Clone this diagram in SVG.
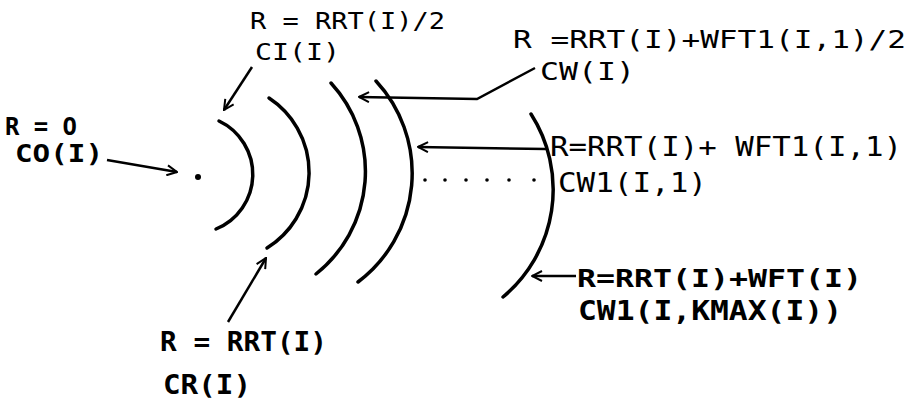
<svg xmlns="http://www.w3.org/2000/svg" width="913" height="406" viewBox="0 0 913 406">
<defs>
<marker id="ah" viewBox="0 0 12 12" refX="11" refY="6" markerWidth="12" markerHeight="12" markerUnits="userSpaceOnUse" orient="auto">
<path d="M1,1 L11,6 L1,11" fill="none" stroke="#000" stroke-width="2"/>
</marker>
<style>
.arc{fill:none;stroke:#000;stroke-width:3.5;stroke-linecap:round}
.con{fill:none;stroke:#000;stroke-width:2.5;marker-end:url(#ah)}
.t{font-family:"DejaVu Sans Mono","Liberation Mono",monospace;fill:#000}
.b{font-weight:bold}
</style>
</defs>
<rect width="913" height="406" fill="#fff"/>
<g id="center"><circle cx="198" cy="177" r="3" fill="#000"/></g>
<g id="arc1"><path class="arc" d="M219,121 A59,59 0 0 1 216,229"/></g>
<g id="arc2"><path class="arc" d="M269,98 A89,89 0 0 1 267,248"/></g>
<g id="arc3"><path class="arc" d="M331,83 A131,131 0 0 1 316,274"/></g>
<g id="arc4"><path class="arc" d="M376,81 A136,136 0 0 1 358,282"/></g>
<g id="arc5"><path class="arc" d="M531,114 A140,140 0 0 1 503,297"/></g>
<g id="dots" fill="#000">
<circle cx="425" cy="180" r="1.8"/><circle cx="445" cy="180" r="1.8"/><circle cx="466" cy="180" r="1.8"/>
<circle cx="487" cy="180" r="1.8"/><circle cx="509" cy="180" r="1.8"/><circle cx="534" cy="180" r="1.8"/>
</g>
<g id="connectors">
<line class="con" x1="252" y1="67" x2="224" y2="110"/>
<line class="con" x1="107" y1="160" x2="177" y2="172"/>
<line class="con" x1="228" y1="322" x2="266" y2="258"/>
<polyline class="con" points="535,68 477,99 359,97"/>
<line class="con" x1="546" y1="149" x2="418" y2="147"/>
<line class="con" x1="576" y1="276" x2="532" y2="276"/>
</g>
<g id="label-ci">
<text class="t" x="250" y="29" font-size="23" textLength="195" lengthAdjust="spacingAndGlyphs">R = RRT(I)/2</text>
<text class="t" x="255" y="60" font-size="23" textLength="85" lengthAdjust="spacingAndGlyphs">CI(I)</text>
</g>
<g id="label-cw">
<text class="t" x="513" y="48" font-size="25" textLength="393" lengthAdjust="spacingAndGlyphs">R =RRT(I)+WFT1(I,1)/2</text>
<text class="t" x="540" y="80" font-size="25" textLength="95" lengthAdjust="spacingAndGlyphs">CW(I)</text>
</g>
<g id="label-co">
<text class="t b" x="5" y="135" font-size="25" textLength="72" lengthAdjust="spacingAndGlyphs">R = O</text>
<text class="t b" x="15" y="162" font-size="25" textLength="88" lengthAdjust="spacingAndGlyphs">CO(I)</text>
</g>
<g id="label-cw1">
<text class="t" x="550" y="156" font-size="26" textLength="352" lengthAdjust="spacingAndGlyphs">R=RRT(I)+ WFT1(I,1)</text>
<text class="t" x="558" y="192" font-size="26" textLength="149" lengthAdjust="spacingAndGlyphs">CW1(I,1)</text>
</g>
<g id="label-cwk">
<text class="t b" x="577" y="287" font-size="25" textLength="285" lengthAdjust="spacingAndGlyphs">R=RRT(I)+WFT(I)</text>
<text class="t b" x="578" y="320" font-size="26" textLength="264" lengthAdjust="spacingAndGlyphs">CW1(I,KMAX(I))</text>
</g>
<g id="label-cr">
<text class="t b" x="160" y="351" font-size="26" textLength="167" lengthAdjust="spacingAndGlyphs">R = RRT(I)</text>
<text class="t b" x="163" y="394" font-size="26" textLength="88" lengthAdjust="spacingAndGlyphs">CR(I)</text>
</g>
</svg>
